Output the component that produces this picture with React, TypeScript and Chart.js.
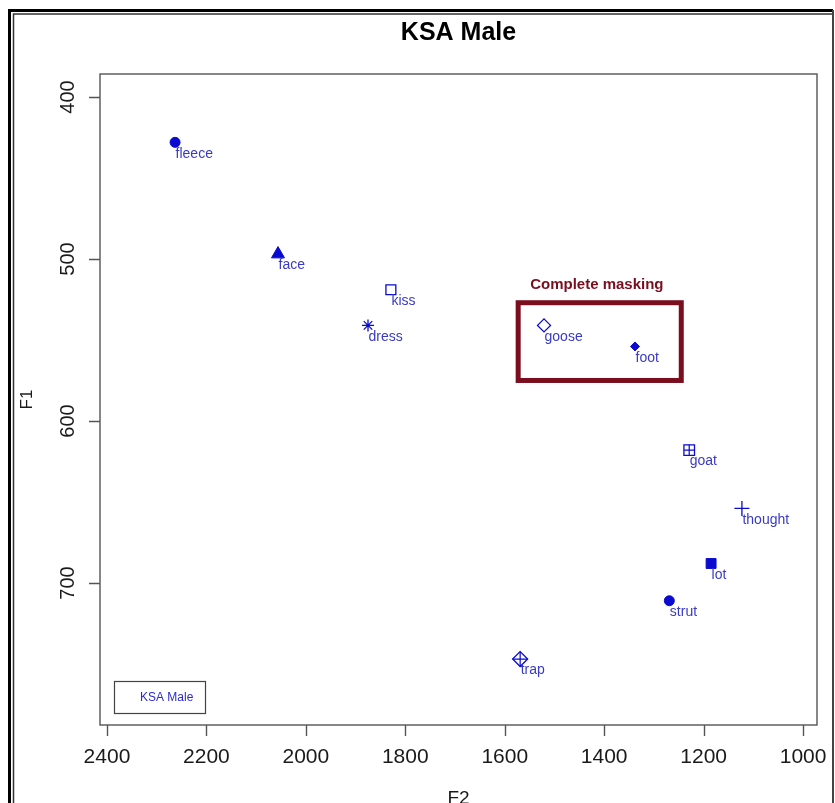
import React, { useEffect, useRef } from 'react';
import { Chart, registerables } from 'chart.js';

Chart.register(...registerables);

const chartTitle = 'KSA Male';
const xAxisTitle = 'F2';
const yAxisTitle = 'F1';
const legendLabel = 'KSA Male';
const maskingLabel = 'Complete masking';

const vowels = ['fleece', 'face', 'kiss', 'dress', 'goose', 'foot', 'goat', 'thought', 'lot', 'strut', 'trap'];
const f2Values = [2263, 2056, 1829, 1875, 1521, 1338, 1229, 1123, 1185, 1269, 1569];
const f1Values = [428, 497, 519, 541, 541, 554, 618, 654, 688, 711, 747];
const markerStyles = ['circle', 'triangle', 'rect', 'star', 'rectRot', 'rectRot', 'rect', 'cross', 'rect', 'circle', 'rectRot'];
const markerFilled = [true, true, false, false, false, true, false, false, true, true, false];
const markerSizes = [5, 7.5, 7, 6, 6.5, 4.5, 7.5, 7.5, 7, 5, 7.5];
const crossedMarkers = [false, false, false, false, false, false, true, false, false, false, true];
const crossSizes = [0, 0, 0, 0, 0, 0, 5.3, 0, 0, 0, 7.5];

const xTicks = [2400, 2200, 2000, 1800, 1600, 1400, 1200, 1000];
const yTicks = [400, 500, 600, 700];
const xRange = [972, 2414];
const yRange = [385.8, 787.7];

const maskingF2 = [1573, 1245];
const maskingF1 = [527, 575];

const FONT = "'Liberation Sans', Arial, Helvetica, sans-serif";
const BLUE = '#0a0ad0';
const LABEL_BLUE = '#3a3ac6';
const MASK_RED = '#7a0e1e';
const AXIS_GREY = '#555555';

const decorPlugin = {
  id: 'rDecor',
  beforeDraw(chart: any) {
    const { ctx, width, height } = chart;
    ctx.save();
    ctx.fillStyle = '#ffffff';
    ctx.fillRect(0, 0, width, height);
    // outer frame
    ctx.strokeStyle = '#000000';
    ctx.lineWidth = 3;
    ctx.beginPath();
    ctx.moveTo(9.5, height + 5);
    ctx.lineTo(9.5, 10.5);
    ctx.lineTo(833, 10.5);
    ctx.stroke();
    ctx.lineWidth = 1.5;
    ctx.strokeStyle = '#333333';
    ctx.beginPath();
    ctx.moveTo(13.5, height + 5);
    ctx.lineTo(13.5, 14);
    ctx.lineTo(833, 14);
    ctx.stroke();
    ctx.lineWidth = 2;
    ctx.strokeStyle = '#444444';
    ctx.beginPath();
    ctx.moveTo(833, 10);
    ctx.lineTo(833, height + 5);
    ctx.stroke();
    ctx.restore();
  },
  afterDatasetsDraw(chart: any) {
    const { ctx, chartArea } = chart;
    const xs = chart.scales.x;
    const ys = chart.scales.y;
    ctx.save();

    // title
    ctx.fillStyle = '#000000';
    ctx.font = `bold 25px ${FONT}`;
    ctx.textAlign = 'center';
    ctx.textBaseline = 'middle';
    ctx.fillText(chartTitle, (chartArea.left + chartArea.right) / 2, 33);

    // plot box
    ctx.strokeStyle = AXIS_GREY;
    ctx.lineWidth = 1.4;
    ctx.strokeRect(chartArea.left, chartArea.top, chartArea.right - chartArea.left, chartArea.bottom - chartArea.top);

    // tick marks
    ctx.beginPath();
    xs.ticks.forEach((t: any) => {
      const px = Math.round(xs.getPixelForValue(t.value)) + 0.5;
      ctx.moveTo(px, chartArea.bottom);
      ctx.lineTo(px, chartArea.bottom + 11);
    });
    ys.ticks.forEach((t: any) => {
      const py = Math.round(ys.getPixelForValue(t.value)) + 0.5;
      ctx.moveTo(chartArea.left, py);
      ctx.lineTo(chartArea.left - 11, py);
    });
    ctx.stroke();

    // masking box
    const mx1 = xs.getPixelForValue(maskingF2[0]);
    const mx2 = xs.getPixelForValue(maskingF2[1]);
    const my1 = ys.getPixelForValue(maskingF1[0]);
    const my2 = ys.getPixelForValue(maskingF1[1]);
    ctx.strokeStyle = MASK_RED;
    ctx.lineWidth = 5;
    ctx.strokeRect(Math.min(mx1, mx2), Math.min(my1, my2), Math.abs(mx2 - mx1), Math.abs(my2 - my1));
    ctx.fillStyle = MASK_RED;
    ctx.font = `bold 15px ${FONT}`;
    ctx.textAlign = 'left';
    ctx.textBaseline = 'middle';
    ctx.fillText(maskingLabel, Math.min(mx1, mx2) + 12, Math.min(my1, my2) - 18);

    // point labels
    const meta = chart.getDatasetMeta(0);
    ctx.fillStyle = LABEL_BLUE;
    ctx.font = `14px ${FONT}`;
    ctx.textAlign = 'left';
    ctx.textBaseline = 'middle';
    meta.data.forEach((el: any, i: number) => {
      ctx.fillText(vowels[i], el.x + 0.5, el.y + 11.5);
    });

    // legend box
    const lx = chartArea.left + 14;
    const lw = 91;
    const lh = 32;
    const ly = chartArea.bottom - 12 - lh;
    ctx.strokeStyle = '#444444';
    ctx.lineWidth = 1.2;
    ctx.strokeRect(lx + 0.5, ly + 0.5, lw, lh);
    ctx.fillStyle = '#2a2ad0';
    ctx.font = `12px ${FONT}`;
    ctx.textAlign = 'left';
    ctx.fillText(legendLabel, lx + 26, ly + lh / 2 + 1);

    ctx.restore();
  },
};

export default function App() {
  const canvasRef = useRef<HTMLCanvasElement | null>(null);

  useEffect(() => {
    if (!canvasRef.current) return;
    const pointData = f2Values.map((x, i) => ({ x, y: f1Values[i] }));
    const crossIdx = crossedMarkers.map((c, i) => (c ? i : -1)).filter((i) => i >= 0);

    const chart = new Chart(canvasRef.current, {
      type: 'scatter',
      data: {
        datasets: [
          {
            label: legendLabel,
            data: pointData,
            pointStyle: markerStyles as any,
            pointRadius: markerSizes,
            pointHoverRadius: markerSizes,
            pointBackgroundColor: markerFilled.map((f) => (f ? BLUE : 'rgba(0,0,0,0)')),
            pointBorderColor: BLUE,
            pointBorderWidth: markerFilled.map((f) => (f ? 1 : 1.3)),
            showLine: false,
          },
          {
            label: 'cross overlay',
            data: crossIdx.map((i) => pointData[i]),
            pointStyle: 'cross',
            pointRadius: crossIdx.map((i) => crossSizes[i]),
            pointHoverRadius: crossIdx.map((i) => crossSizes[i]),
            pointBorderColor: BLUE,
            pointBorderWidth: 1.2,
            showLine: false,
          },
        ],
      },
      options: {
        animation: false,
        responsive: false,
        events: [],
        layout: { padding: { top: 74, left: 0, right: 18, bottom: 0 } },
        plugins: {
          legend: { display: false },
          tooltip: { enabled: false },
          title: { display: false },
        },
        scales: {
          x: {
            type: 'linear',
            reverse: true,
            min: xRange[0],
            max: xRange[1],
            afterBuildTicks: (s: any) => {
              s.ticks = xTicks.map((v) => ({ value: v }));
            },
            afterFit: (s: any) => {
              s.height = 78;
              s.paddingLeft = 0;
              s.paddingRight = 0;
              s.paddingTop = 0;
              s.paddingBottom = 0;
            },
            grid: { display: false, drawTicks: false },
            border: { display: false },
            ticks: {
              color: '#1a1a1a',
              font: { family: FONT, size: 21 },
              padding: 20,
              maxRotation: 0,
              autoSkip: false,
              callback: (v: any) => String(v),
            },
            title: {
              display: true,
              text: xAxisTitle,
              color: '#1a1a1a',
              font: { family: FONT, size: 19 },
              padding: { top: 0, bottom: -7 },
            },
          },
          y: {
            type: 'linear',
            reverse: true,
            min: yRange[0],
            max: yRange[1],
            afterBuildTicks: (s: any) => {
              s.ticks = yTicks.map((v) => ({ value: v }));
            },
            afterFit: (s: any) => {
              s.width = 100;
              s.paddingLeft = 0;
              s.paddingRight = 0;
              s.paddingTop = 0;
              s.paddingBottom = 0;
            },
            grid: { display: false, drawTicks: false },
            border: { display: false },
            ticks: {
              color: '#1a1a1a',
              font: { family: FONT, size: 20 },
              padding: 15,
              minRotation: 90,
              maxRotation: 90,
              crossAlign: 'center',
              autoSkip: false,
              callback: (v: any) => String(v),
            },
            title: {
              display: true,
              text: yAxisTitle,
              color: '#1a1a1a',
              font: { family: FONT, size: 17 },
              padding: { top: 17, bottom: 0 },
            },
          },
        },
      } as any,
      plugins: [decorPlugin],
    });
    return () => chart.destroy();
  }, []);

  return (
    <div style={{ position: 'absolute', left: 0, top: 0, width: 835, height: 803, overflow: 'hidden' }}>
      <canvas ref={canvasRef} width={835} height={803} style={{ display: 'block', width: 835, height: 803 }} />
    </div>
  );
}
